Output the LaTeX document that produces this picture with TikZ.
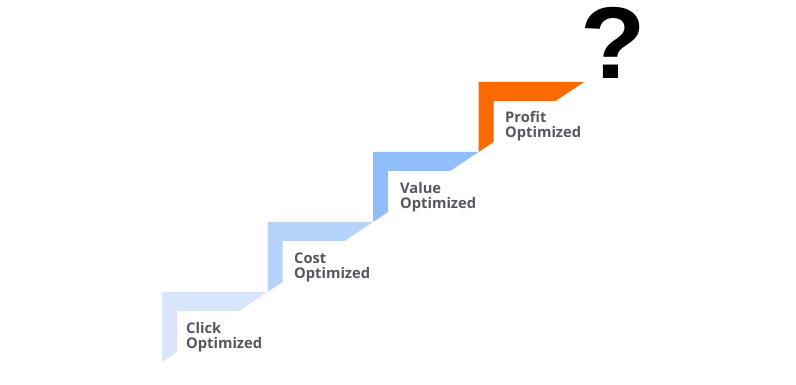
\documentclass[tikz,border=0pt]{standalone}
\usepackage{fontspec}
\setmainfont{Open Sans}
\newfontfamily\markfont{Liberation Sans}
\usetikzlibrary{positioning}

\definecolor{stepone}{HTML}{D7E6FB}
\definecolor{steptwo}{HTML}{B5D2FB}
\definecolor{stepthree}{HTML}{8FBEFA}
\definecolor{stepfour}{HTML}{FF6A00}
\definecolor{labelgray}{HTML}{54575F}

\begin{document}
\begin{tikzpicture}[
        x=1pt, y=-1pt,
        steplabel/.style={anchor=base west, inner sep=0pt, align=left, text=labelgray, font=\fontsize{14.7}{15}\selectfont\bfseries},
        bigmark/.style={inner sep=0pt, font=\markfont\fontsize{102}{102}\selectfont\bfseries}
    ]
        \useasboundingbox (0,0) rectangle (796,385);

        % the four steps
        \fill[stepone] (162,362) -- (162,292) -- (267.5,292) -- (239,311) -- (177,311) -- (177,352) -- cycle;
        \fill[steptwo] (267.5,292) -- (267.5,222) -- (373,222) -- (344.5,241) -- (282.5,241) -- (282.5,282) -- cycle;
        \fill[stepthree] (373,222) -- (373,152) -- (478.5,152) -- (450,171) -- (388,171) -- (388,212) -- cycle;
        \fill[stepfour] (478.5,152) -- (478.5,82) -- (584,82) -- (555.5,101) -- (493.5,101) -- (493.5,142) -- cycle;

        % labels, anchored at the baseline of the second line
        \node[steplabel] (click) at (186,348) {Click\\Optimized};
        \node[steplabel] (cost) at (294,278) {Cost\\Optimized};
        \node[steplabel] (value) at (400,208) {Value\\Optimized};
        \node[steplabel] (profit) at (505,138) {Profit\\Optimized};

        \node[bigmark] (question) at (613.5,42.5) {\scalebox{1.05}[1]{?}};
    \end{tikzpicture}
\end{document}
